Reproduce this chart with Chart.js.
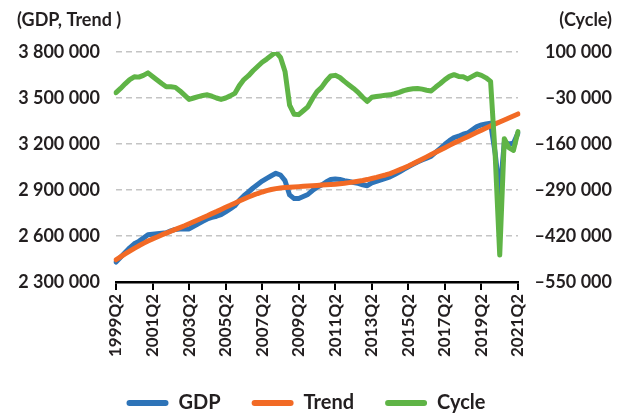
<!DOCTYPE html>
<html><head><meta charset="utf-8">
<script src="https://cdn.jsdelivr.net/npm/chart.js@4.4.1/dist/chart.umd.min.js"></script>
<style>html,body{margin:0;padding:0;background:#fff;overflow:hidden}canvas{display:block}</style>
</head><body>
<canvas id="c" width="629" height="416"></canvas>
<script>
const quarters = [
  '1999Q2','1999Q3','1999Q4',
  '2000Q1','2000Q2','2000Q3','2000Q4','2001Q1','2001Q2','2001Q3','2001Q4',
  '2002Q1','2002Q2','2002Q3','2002Q4','2003Q1','2003Q2','2003Q3','2003Q4',
  '2004Q1','2004Q2','2004Q3','2004Q4','2005Q1','2005Q2','2005Q3','2005Q4',
  '2006Q1','2006Q2','2006Q3','2006Q4','2007Q1','2007Q2','2007Q3','2007Q4',
  '2008Q1','2008Q2','2008Q3','2008Q4','2009Q1','2009Q2','2009Q3','2009Q4',
  '2010Q1','2010Q2','2010Q3','2010Q4','2011Q1','2011Q2','2011Q3','2011Q4',
  '2012Q1','2012Q2','2012Q3','2012Q4','2013Q1','2013Q2','2013Q3','2013Q4',
  '2014Q1','2014Q2','2014Q3','2014Q4','2015Q1','2015Q2','2015Q3','2015Q4',
  '2016Q1','2016Q2','2016Q3','2016Q4','2017Q1','2017Q2','2017Q3','2017Q4',
  '2018Q1','2018Q2','2018Q3','2018Q4','2019Q1','2019Q2','2019Q3','2019Q4',
  '2020Q1','2020Q2','2020Q3','2020Q4','2021Q1','2021Q2'
];
const tickLabels = ['1999Q2','2001Q2','2003Q2','2005Q2','2007Q2','2009Q2','2011Q2','2013Q2','2015Q2','2017Q2','2019Q2','2021Q2'];

const gdp = [
  2430000,2461000,2493000,2523000,2549000,2565000,2586000,2608000,2612000,2615000,
  2618000,2621000,2633000,2643000,2645000,2645000,2646000,2663000,2680000,2696000,
  2711000,2721000,2729000,2739000,2757000,2776000,2797000,2833000,2863000,2887000,
  2913000,2936000,2958000,2976000,2993000,3009000,2998000,2961000,2868000,2844000,
  2845000,2858000,2871000,2896000,2918000,2932000,2952000,2968000,2972000,2969000,
  2961000,2955000,2949000,2943000,2934000,2928000,2947000,2956000,2966000,2976000,
  2986000,3001000,3017000,3035000,3051000,3067000,3083000,3096000,3108000,3121000,
  3147000,3172000,3198000,3222000,3242000,3251000,3264000,3272000,3293000,3314000,
  3324000,3331000,3335000,3141000,2870000,3212000,3200000,3205000,3271000
];
const trend = [
  2445000,2464000,2483000,2501000,2519000,2536000,2552000,2567000,2581000,2594000,
  2607000,2619000,2631000,2643000,2655000,2667000,2680000,2693000,2706000,2719000,
  2732000,2746000,2759000,2773000,2787000,2800000,2814000,2828000,2841000,2854000,
  2866000,2877000,2887000,2896000,2903000,2909000,2913000,2916000,2918000,2920000,
  2922000,2924000,2926000,2928000,2930000,2932000,2934000,2936000,2938000,2941000,
  2944000,2948000,2952000,2957000,2962000,2968000,2975000,2982000,2990000,2998000,
  3007000,3019000,3031000,3044000,3057000,3071000,3086000,3101000,3116000,3131000,
  3146000,3161000,3176000,3191000,3206000,3220000,3234000,3248000,3262000,3276000,
  3290000,3304000,3318000,3331000,3344000,3357000,3370000,3383000,3396000
];
const cycle = [
  -15000,-3000,10000,22000,30000,29000,34000,41000,31000,21000,
  11000,2000,2000,0,-10000,-22000,-34000,-30000,-26000,-23000,
  -21000,-25000,-30000,-34000,-30000,-24000,-17000,5000,22000,33000,
  47000,59000,71000,80000,90000,100000,85000,45000,-50000,-76000,
  -77000,-66000,-55000,-32000,-12000,0,18000,32000,34000,28000,
  17000,7000,-3000,-14000,-28000,-40000,-28000,-26000,-24000,-22000,
  -21000,-18000,-14000,-9000,-6000,-4000,-3000,-5000,-8000,-10000,
  1000,11000,22000,31000,36000,31000,30000,24000,31000,38000,
  34000,27000,17000,-190000,-474000,-145000,-170000,-178000,-125000
];

const FONT = 'Lato';
const TXT = '#231f20';
function fmt(v){
  const s = Math.abs(Math.round(v)).toString().replace(/\B(?=(\d{3})+(?!\d))/g,' ');
  return (v < 0 ? '\u2013' : '') + s;
}

const titles = {
  id:'titles',
  afterDraw(chart){
    const ctx = chart.ctx;
    ctx.save();
    ctx.font = 'bold 18px ' + FONT;
    ctx.fillStyle = TXT;
    ctx.textBaseline = 'middle';
    ctx.textAlign = 'left';
    ctx.fillText('(GDP, Trend )', 17, 20);
    ctx.textAlign = 'right';
    ctx.fillText('(Cycle)', 612, 20);
    ctx.restore();
  }
};

function build(){
  new Chart(document.getElementById('c'), {
    type:'line',
    data:{
      labels: quarters,
      datasets:[
        {label:'GDP', data:gdp, yAxisID:'y', borderColor:'#2e74b8', backgroundColor:'#2e74b8', order:3},
        {label:'Trend', data:trend, yAxisID:'y', borderColor:'#f26a25', backgroundColor:'#f26a25', order:2},
        {label:'Cycle', data:cycle, yAxisID:'y2', borderColor:'#5fb446', backgroundColor:'#5fb446', order:1}
      ]
    },
    options:{
      responsive:false,
      animation:false,
      devicePixelRatio:1,
      layout:{padding:{top:52, right:17, left:0, bottom:-7}},
      elements:{
        line:{borderWidth:5, tension:0, borderJoinStyle:'round', borderCapStyle:'round', fill:false},
        point:{radius:0, hoverRadius:0}
      },
      plugins:{
        tooltip:{enabled:false},
        legend:{
          position:'bottom',
          labels:{
            boxWidth:42, boxHeight:6, padding:31, color:TXT,
            font:{family:FONT, weight:'bold', size:20},
            useBorderRadius:true, borderRadius:3,
            generateLabels(chart){
              return chart.data.datasets.map((d,i)=>({
                text:d.label, fillStyle:d.borderColor, strokeStyle:d.borderColor,
                lineWidth:0, hidden:false, datasetIndex:i, fontColor:TXT, borderRadius:3
              }));
            }
          }
        }
      },
      scales:{
        x:{
          type:'category',
          offset:false,
          grid:{
            display:true, drawOnChartArea:false, drawTicks:true, tickLength:8, offset:false,
            lineWidth:2,
            color:(c)=> tickLabels.includes(quarters[c.index]) ? '#000' : 'rgba(0,0,0,0)',
            tickColor:(c)=> tickLabels.includes(quarters[c.index]) ? '#000' : 'rgba(0,0,0,0)'
          },
          border:{display:true, color:'#000', width:2.5},
          ticks:{
            autoSkip:false, maxRotation:90, minRotation:90, padding:4, color:TXT,
            font:{family:FONT, weight:'bold', size:17},
            callback(v,i){ const l = quarters[i]; return tickLabels.includes(l) ? l : ''; }
          },
          afterFit(s){ s.height = 80; }
        },
        y:{
          position:'left',
          min:2300000, max:3800000,
          ticks:{stepSize:300000, padding:16, color:TXT, font:{family:FONT, weight:'bold', size:18}, callback:(v)=>fmt(v)},
          grid:{drawTicks:false, lineWidth:1.5, color:(c)=> (c.tick && c.tick.value === 2300000) ? 'rgba(0,0,0,0)' : '#c4c4c4'},
          border:{display:false, dash:[6,4]},
          afterFit(s){ s.width = 116; }
        },
        y2:{
          position:'right',
          min:-550000, max:100000,
          ticks:{stepSize:130000, padding:15, crossAlign:'far', color:TXT, font:{family:FONT, weight:'bold', size:18}, callback:(v)=>fmt(v)},
          grid:{drawOnChartArea:false, drawTicks:false},
          border:{display:false},
          afterFit(s){ s.width = 94; }
        }
      }
    },
    plugins:[titles]
  });
}
if (document.fonts && document.fonts.load) {
  Promise.all([document.fonts.load('bold 18px Lato'), document.fonts.load('bold 17px Lato'), document.fonts.load('bold 20px Lato')]).then(build, build);
} else { build(); }
</script>
</body></html>
